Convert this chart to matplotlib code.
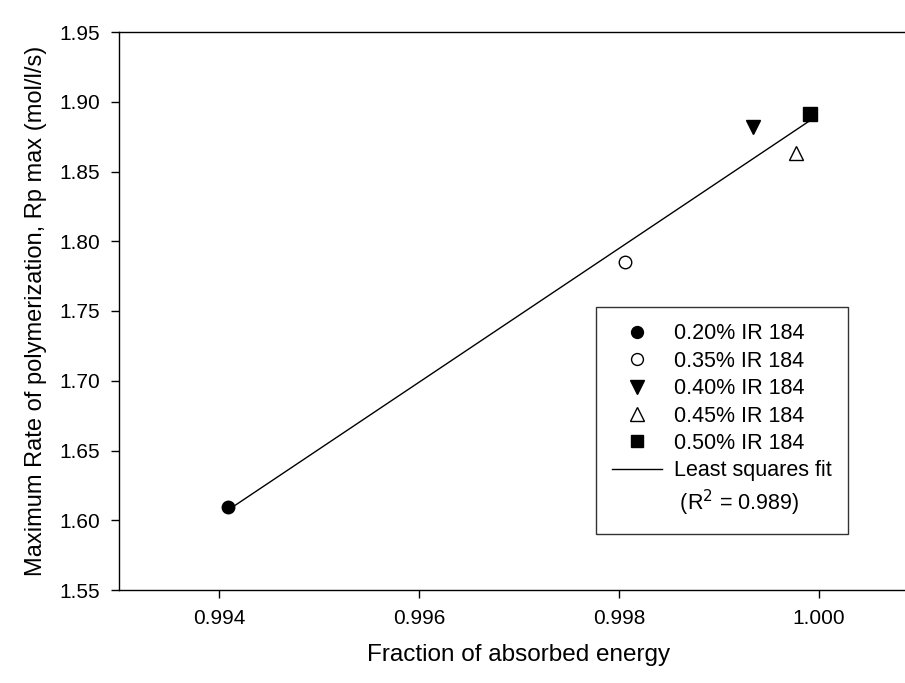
import numpy as np
import matplotlib
matplotlib.use("Agg")
import matplotlib.pyplot as plt
from matplotlib.lines import Line2D

plt.rcParams['font.family'] = ['Liberation Sans', 'DejaVu Sans']

# data
labels = ["0.20% IR 184", "0.35% IR 184", "0.40% IR 184", "0.45% IR 184", "0.50% IR 184"]
absorbed = [0.99409, 0.99806, 0.99934, 0.99977, 0.99991]
rp_max = [1.6095, 1.785, 1.882, 1.863, 1.891]
markers = ["o", "o", "v", "^", "s"]
filled = [True, False, True, False, True]
r2_text = " (R$^2$ = 0.989)"

fig = plt.figure(figsize=(9.05, 6.83), dpi=100)
ax = fig.add_axes([119 / 905, 1 - 590 / 683, 800 / 905, (590 - 32) / 683])

# least squares fit line
slope, icpt = np.polyfit(absorbed, rp_max, 1)
xs = np.array([min(absorbed), max(absorbed)])
fit_line, = ax.plot(xs, slope * xs + icpt, color="black", lw=1.0)

sizes = {"o": 9, "v": 10.5, "^": 10.5, "s": 9.5}
handles = []
for x, y, m, f, lab in zip(absorbed, rp_max, markers, filled, labels):
    h, = ax.plot([x], [y], linestyle="none", marker=m, markersize=sizes[m],
                 markerfacecolor="black" if f else "white",
                 markeredgecolor="black", markeredgewidth=1.0, label=lab)
    handles.append(h)

blank = Line2D([], [], linestyle="none", marker=None)
leg = ax.legend(handles + [fit_line, blank],
                labels + ["Least squares fit", r2_text],
                loc="upper left", bbox_to_anchor=(596 / 905, 1 - 307 / 683),
                bbox_transform=fig.transFigure, markerscale=0.95,
                frameon=True, fancybox=False, edgecolor="black",
                fontsize=15.5, labelspacing=0.3, handlelength=2.33,
                handletextpad=0.56, borderpad=0.75, borderaxespad=0)
leg.get_frame().set_linewidth(1.0)

ax.set_xlim(0.993, 1.001)
ax.set_ylim(1.55, 1.95)
ax.set_xticks([0.994, 0.996, 0.998, 1.000])
ax.set_xticklabels(["0.994", "0.996", "0.998", "1.000"])
ax.set_yticks(np.arange(1.55, 1.951, 0.05))
ax.set_yticklabels(["%.2f" % v for v in np.arange(1.55, 1.951, 0.05)])

ax.tick_params(direction="out", length=5.5, width=1.0, labelsize=15, pad=8)
for s in ax.spines.values():
    s.set_linewidth(1.0)

ax.set_xlabel("Fraction of absorbed energy", fontsize=17.5, labelpad=12)
ax.set_ylabel("Maximum Rate of polymerization, Rp max (mol/l/s)", fontsize=17, labelpad=9)

fig.savefig("out.png", dpi=100)
